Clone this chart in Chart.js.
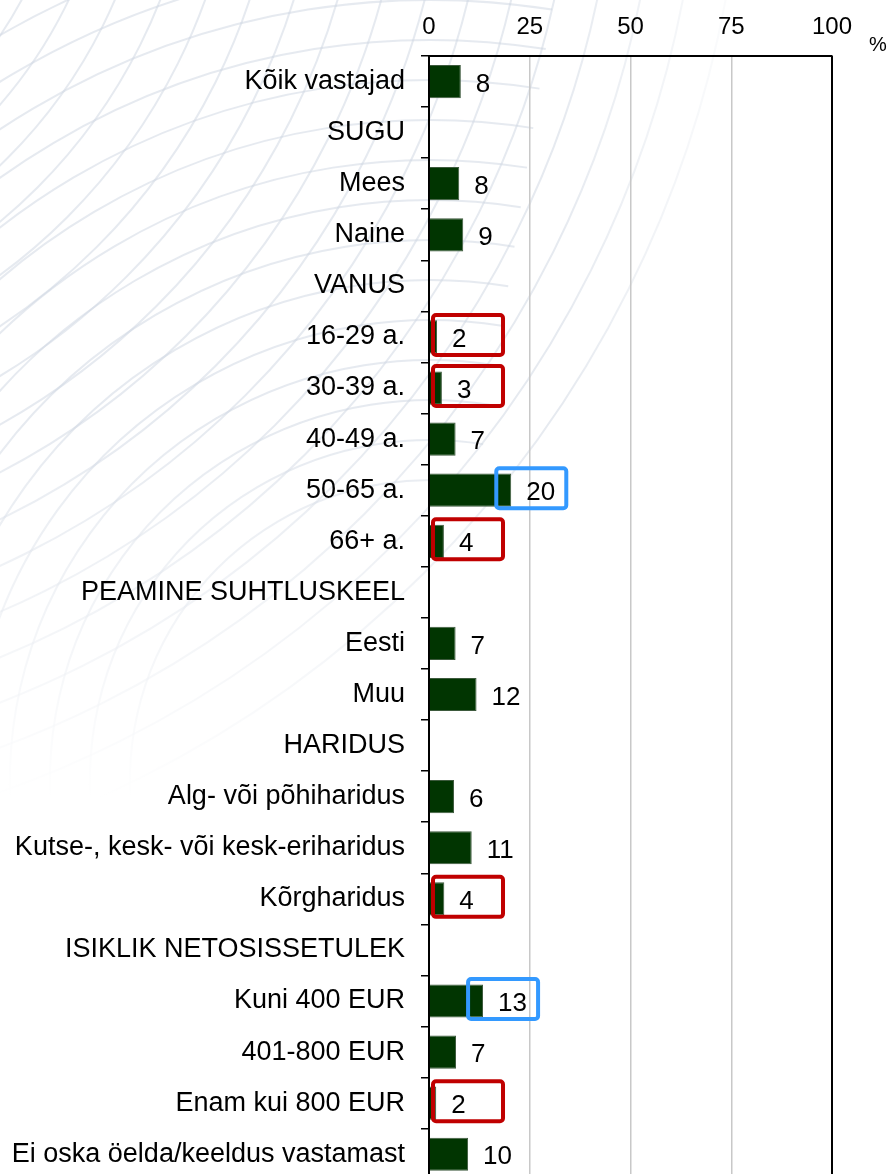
<!DOCTYPE html>
<html>
<head>
<meta charset="utf-8">
<script src="https://cdn.jsdelivr.net/npm/chart.js@4/dist/chart.umd.min.js"></script>
<style>
body{margin:0;background:#fff;overflow:hidden;}
canvas{display:block;}
</style>
</head>
<body>
<canvas id="barChart" width="891" height="1212"></canvas>
<script>
// categories (group headers have no value)
const labels = [
"Kõik vastajad",
"SUGU",
"Mees",
"Naine",
"VANUS",
"16-29 a.",
"30-39 a.",
"40-49 a.",
"50-65 a.",
"66+ a.",
"PEAMINE SUHTLUSKEEL",
"Eesti",
"Muu",
"HARIDUS",
"Alg- või põhiharidus",
"Kutse-, kesk- või kesk-eriharidus",
"Kõrgharidus",
"ISIKLIK NETOSISSETULEK",
"Kuni 400 EUR",
"401-800 EUR",
"Enam kui 800 EUR",
"Ei oska öelda/keeldus vastamast"
];

const values = [7.9, null, 7.5, 8.5, null, 2.0, 3.2, 6.6, 20.4, 3.7, null, 6.6, 11.8, null, 6.2, 10.6, 3.8, null, 13.4, 6.7, 1.8, 9.7];

const xTicks = [0, 25, 50, 75, 100];

// highlighted rows: low values in red, high values in blue
const redRows = ["16-29 a.", "30-39 a.", "66+ a.", "Kõrgharidus", "Enam kui 800 EUR"];
const blueRows = ["50-65 a.", "Kuni 400 EUR"];

function drawWatermark(ctx){
ctx.save();
ctx.strokeStyle = "rgba(205,213,225,0.5)";
ctx.lineWidth = 2;
let cx = 430, cy = 780;
for(let r = 300; r <= 1000; r += 40){
ctx.beginPath();
ctx.arc(cx, cy, r, Math.PI * 0.95, Math.PI * 1.55);
ctx.stroke();
}
let cx2 = -350, cy2 = -200;
for(let r = 380; r <= 1100; r += 42){
ctx.beginPath();
ctx.arc(cx2, cy2, r, Math.PI * 0.05, Math.PI * 0.45);
ctx.stroke();
}
// fade towards bottom and right
let g = ctx.createLinearGradient(0, 420, 0, 800);
g.addColorStop(0, "rgba(255,255,255,0)");
g.addColorStop(1, "rgba(255,255,255,1)");
ctx.fillStyle = g;
ctx.fillRect(0, 420, 891, 800);
let g2 = ctx.createLinearGradient(560, 0, 760, 0);
g2.addColorStop(0, "rgba(255,255,255,0)");
g2.addColorStop(1, "rgba(255,255,255,1)");
ctx.fillStyle = g2;
ctx.fillRect(560, 0, 331, 1212);
ctx.restore();
}

const extras = {
id: "extras",
beforeDraw(chart){
let ctx = chart.ctx;
ctx.save();
ctx.fillStyle = "#fff";
ctx.fillRect(0, 0, chart.width, chart.height);
ctx.restore();
drawWatermark(ctx);
},
afterDatasetsDraw(chart){
let ctx = chart.ctx;
let x = chart.scales.x;
let y = chart.scales.y;
let area = chart.chartArea;

// right border of plot
ctx.save();
ctx.strokeStyle = "#000";
ctx.lineWidth = 2;
ctx.beginPath();
ctx.moveTo(area.right, area.top);
ctx.lineTo(area.right, area.bottom);
ctx.stroke();
ctx.restore();

// highlight boxes
function box(name, color){
let i = labels.indexOf(name);
let v = values[i];
let cy = y.getPixelForValue(i);
let from = Math.max(0.5, v - 4.2);
let x1 = x.getPixelForValue(from);
let x2 = x1 + 74;
ctx.save();
ctx.strokeStyle = color;
ctx.lineWidth = 4;
ctx.beginPath();
ctx.roundRect(x1 + 2, cy - 22, x2 - x1 - 4, 40, 3);
ctx.stroke();
ctx.restore();
}
redRows.forEach(n => box(n, "#c00000"));
blueRows.forEach(n => box(n, "#3399ff"));

// value labels
ctx.save();
ctx.fillStyle = "#000";
ctx.font = "26px 'Liberation Sans', Arial, sans-serif";
ctx.textAlign = "left";
ctx.textBaseline = "middle";
values.forEach((v, i) => {
if(v === null) return;
ctx.fillText(String(Math.round(v)), x.getPixelForValue(v) + 15, y.getPixelForValue(i) + 3);
});
ctx.restore();

// percent sign
ctx.save();
ctx.fillStyle = "#000";
ctx.font = "20px 'Liberation Sans', Arial, sans-serif";
ctx.textAlign = "center";
ctx.textBaseline = "middle";
ctx.fillText("%", area.right + 46, 45);
ctx.restore();
}
};

new Chart(document.getElementById("barChart"), {
type: "bar",
data: {
labels: labels,
datasets: [{
data: values,
backgroundColor: "#013501",
borderColor: "#3d5a3d",
borderWidth: 1,
borderSkipped: "left",
barPercentage: 0.65,
categoryPercentage: 1
}]
},
options: {
indexAxis: "y",
responsive: false,
animation: false,
layout: { padding: { left: 0, right: 59, top: 0, bottom: 0 } },
plugins: {
legend: { display: false },
tooltip: { enabled: false }
},
scales: {
x: {
position: "top",
min: 0,
max: 100,
afterFit(scale){ scale.height = 56; },
afterBuildTicks(scale){ scale.ticks = xTicks.map(v => ({ value: v })); },
ticks: {
color: "#000",
padding: 14,
font: { family: "'Liberation Sans', Arial, sans-serif", size: 24 }
},
grid: {
drawTicks: false,
lineWidth: 1.5,
color: c => c.tick && c.tick.value === 100 ? "#000" : "#c8c8c8"
},
border: { display: true, color: "#000", width: 2 }
},
y: {
afterFit(scale){ scale.width = 429; },
ticks: {
color: "#000",
padding: 16,
font: { family: "'Liberation Sans', Arial, sans-serif", size: 27 }
},
grid: {
drawOnChartArea: false,
drawTicks: true,
tickLength: 8,
color: "#000",
lineWidth: 1.5
},
border: { display: true, color: "#000", width: 2 }
}
}
},
plugins: [extras]
});
</script>
</body>
</html>
